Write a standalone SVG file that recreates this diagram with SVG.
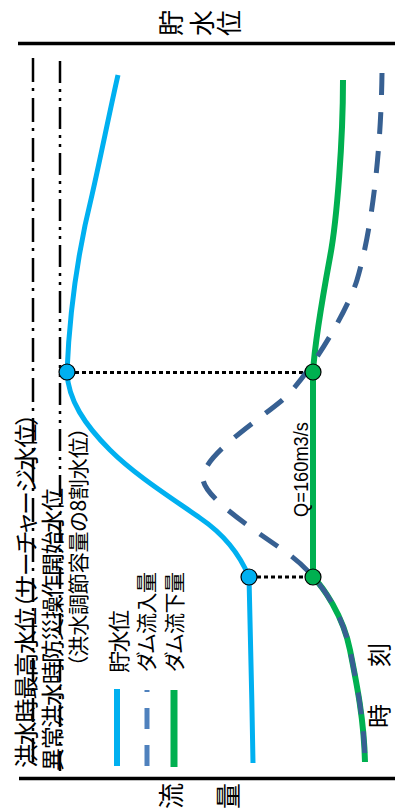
<svg xmlns="http://www.w3.org/2000/svg" width="395" height="812" viewBox="0 0 395 812">
<style>
.jp{font-family:"Noto Sans CJK JP","Liberation Sans",sans-serif;fill:#000;font-feature-settings:"palt" 1;}
.vt{font-family:"Noto Sans CJK JP",sans-serif;fill:#000;font-size:26px;}
.lat{font-family:"Liberation Sans",Arial,sans-serif;fill:#000;}
.axis{stroke:#000;stroke-width:3.5;fill:none;}
.ref1{stroke:#000;stroke-width:2.5;fill:none;stroke-dasharray:24 6 3 7;}
.ref2{stroke:#000;stroke-width:2.5;fill:none;stroke-dasharray:22 6 3 6 3 6;}
.lvl{stroke:#00B0F0;stroke-width:5;fill:none;}
.out{stroke:#00B050;stroke-width:6;fill:none;}
.inf{stroke:#376092;stroke-width:5;fill:none;stroke-dasharray:22 17;}
.dot{stroke:#000;stroke-width:3;fill:none;stroke-dasharray:4 3;}
.pt{stroke:#000;stroke-width:1.2;}
</style>

<g id="axes">
  <line class="axis" x1="18" y1="43.5" x2="395" y2="43.5"/>
  <line class="axis" x1="19" y1="778.5" x2="395" y2="778.5"/>
</g>

<g id="titles">
  <text class="vt" transform="translate(181,36) rotate(-90)" x="0 0 0" y="0 31 58">貯水位</text>
  <text class="vt" transform="translate(181,809) rotate(-90)" x="0 0" y="0 57">流量</text>
  <text class="jp" transform="translate(388,728) rotate(-90)" font-size="24" textLength="85">時　刻</text>
</g>

<g id="reference-lines">
  <line class="ref1" x1="33" y1="58" x2="33" y2="768"/>
  <line class="ref2" x1="60" y1="61" x2="60" y2="771"/>
  <text class="jp" transform="translate(35,768) rotate(-90)" font-size="24" textLength="355">洪水時最高水位（サーチャージ水位）</text>
  <text class="jp" transform="translate(61,771) rotate(-90)" font-size="23" textLength="283">異常洪水時防災操作開始水位</text>
  <text class="jp" transform="translate(86,667) rotate(-90)" font-size="21" textLength="240">（洪水調節容量の8割水位）</text>
</g>

<g id="legend">
  <line x1="117" y1="689" x2="117" y2="766" stroke="#00B0F0" stroke-width="6"/>
  <line x1="147" y1="766" x2="147" y2="690" stroke="#4F81BD" stroke-width="5" stroke-dasharray="21 16"/>
  <line x1="174" y1="690" x2="174" y2="767" stroke="#00B050" stroke-width="7"/>
  <text class="jp" transform="translate(127,673) rotate(-90)" font-size="22" textLength="63">貯水位</text>
  <text class="jp" transform="translate(154,672) rotate(-90)" font-size="21" textLength="100">ダム流入量</text>
  <text class="jp" transform="translate(182,672) rotate(-90)" font-size="21" textLength="100">ダム流下量</text>
</g>

<g id="connectors">
  <line class="dot" x1="75" y1="372.5" x2="305" y2="372.5"/>
  <line class="dot" x1="257" y1="577" x2="305" y2="577"/>
</g>

<g id="storage-level">
  <path class="lvl" d="M253,763 C252,700 250,620 249,577 C240,555 225,535 200,518 C170,497 135,475 110,450 C85,425 68,400 67,372 C70,300 82,235 92,195 C100,160 110,110 118,75"/>
</g>

<g id="outflow">
  <path class="out" d="M343,80 C343,140 337,220 330,257 C323,295 315,340 313,372 L313,577 C323,587 343,615 350,650 C357,685 364,720 365,762"/>
  <text class="lat" transform="translate(308,517) rotate(-90)" font-size="21" textLength="95" lengthAdjust="spacingAndGlyphs">Q=160m3/s</text>
</g>

<g id="inflow">
  <path class="inf" d="M382,73 C381,150 372,230 357,280 C348,310 307,380 280,402 C253,424 205,455 203,477 C201,495 250,527 280,548 C295,558 306,568 313,577 C323,587 343,615 350,650 C357,685 364,720 365,762"/>
</g>

<g id="points">
  <circle class="pt" cx="67" cy="372" r="8" fill="#00B0F0"/>
  <circle class="pt" cx="313" cy="372" r="8" fill="#00B050"/>
  <circle class="pt" cx="249" cy="577" r="8" fill="#00B0F0"/>
  <circle class="pt" cx="313" cy="577" r="8" fill="#00B050"/>
</g>
</svg>
